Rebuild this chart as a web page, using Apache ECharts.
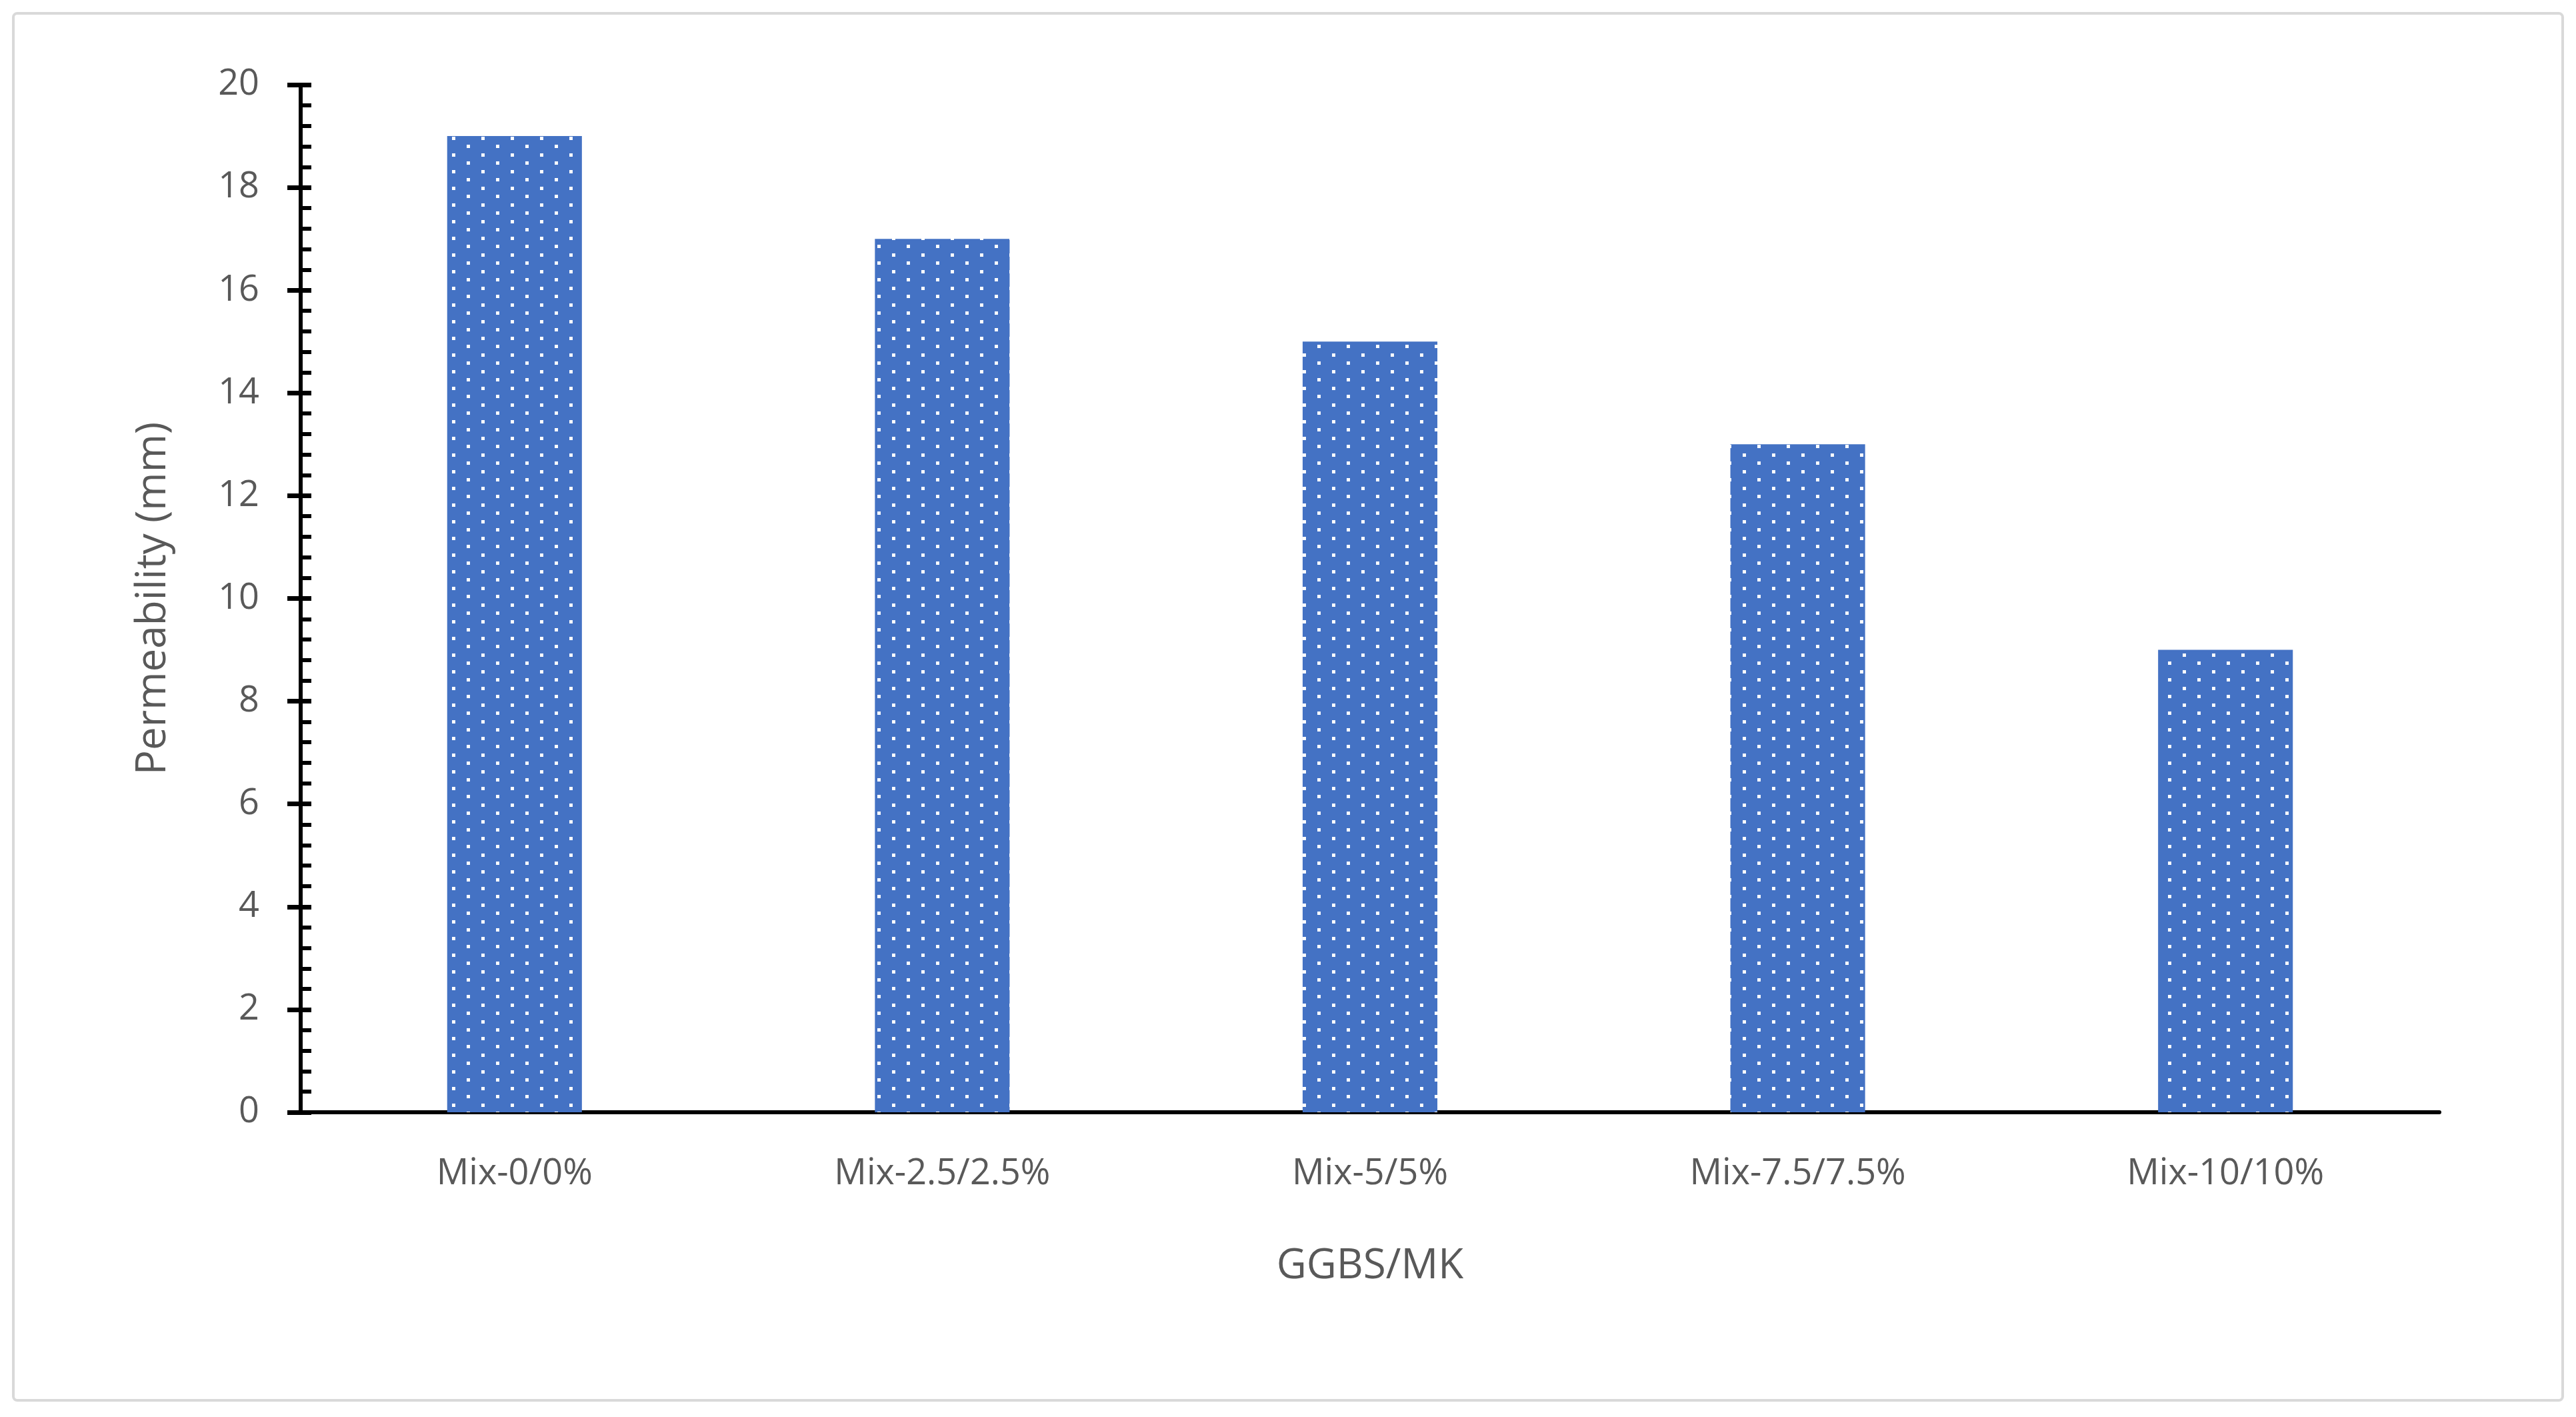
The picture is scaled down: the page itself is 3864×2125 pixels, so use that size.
<!DOCTYPE html>
<html><head><meta charset="utf-8">
<script src="https://cdn.jsdelivr.net/npm/echarts@6/dist/echarts.min.js"></script>
<style>html,body{margin:0;padding:0;background:#fff}#c{width:3864px;height:2125px}</style>
</head><body><div id="c"></div>
<script>
const categories = ['Mix-0/0%','Mix-2.5/2.5%','Mix-5/5%','Mix-7.5/7.5%','Mix-10/10%'];
const values = [19,17,15,13,9];
const xTitle = 'GGBS/MK';
const yTitle = 'Permeability (mm)';

const tile = document.createElement('canvas');
tile.width = 44; tile.height = 25;
const g = tile.getContext('2d');
g.fillStyle = '#4472C4'; g.fillRect(0,0,44,25);
g.fillStyle = '#ffffff';
g.fillRect(18,5,5,5); g.fillRect(40,17,5,5); g.fillRect(0,17,1,5);

const chart = echarts.init(document.getElementById('c'));
const font = 'Open Sans';
const yBase = {
  type:'value', min:0, max:20, interval:2, gridIndex:0
};
chart.setOption({
  backgroundColor:'#fff',
  animation:false,
  graphic:[{type:'rect', shape:{x:20,y:20,width:3824,height:2080,r:6}, style:{fill:'none', stroke:'#d9d9d9', lineWidth:4}}],
  grid:{left:451, right:205, top:127, bottom:457},
  xAxis:{type:'category', data:categories,
    axisLine:{lineStyle:{color:'#000', width:6}}, axisTick:{show:false},
    axisLabel:{color:'#595959', fontSize:54, fontFamily:font, margin:66},
    name:xTitle, nameLocation:'middle', nameGap:200,
    nameTextStyle:{color:'#595959', fontSize:62, fontFamily:font}},
  yAxis:[Object.assign({}, yBase, {
    axisLine:{show:true, lineStyle:{color:'#000', width:6}},
    axisTick:{show:true, length:20, lineStyle:{color:'#000', width:7}},
    minorTick:{show:true, splitNumber:5, length:1},
    splitLine:{show:false},
    axisLabel:{color:'#595959', fontSize:54, fontFamily:font, margin:62},
    name:yTitle, nameLocation:'middle', nameGap:190,
    nameTextStyle:{color:'#595959', fontSize:62, fontFamily:font}
  }), Object.assign({}, yBase, {
    position:'left',
    axisLine:{show:false},
    axisTick:{show:true, inside:true, length:16, lineStyle:{color:'#000', width:7}},
    minorTick:{show:true, splitNumber:5, length:16, lineStyle:{color:'#000', width:6}},
    splitLine:{show:false}, axisLabel:{show:false}
  })],
  series:[{type:'bar', data:values, barWidth:'31.5%',
    itemStyle:{color:{image:tile, repeat:'repeat'}}}]
});
</script></body></html>
